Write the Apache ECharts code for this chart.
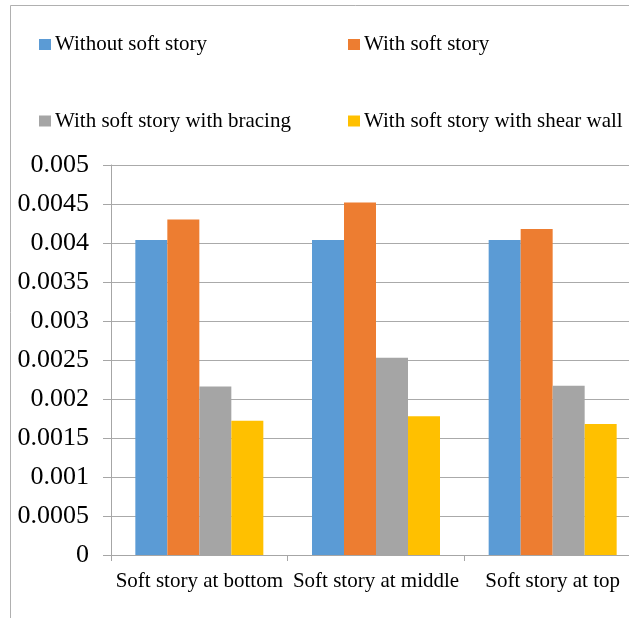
<!DOCTYPE html>
<html>
<head>
<meta charset="utf-8">
<script src="https://cdn.jsdelivr.net/npm/echarts@6/dist/echarts.min.js"></script>
<style>html,body{margin:0;padding:0;background:#fff;overflow:hidden;width:629px;height:618px;}#c{width:700px;height:618px;}</style>
</head>
<body>
<div id="c"></div>
<script>
const categories = ['Soft story at bottom', 'Soft story at middle', 'Soft story at top'];
const seriesNames = ['Without soft story', 'With soft story', 'With soft story with bracing', 'With soft story with shear wall'];
const withoutSoft = [0.00404, 0.00404, 0.00404];
const withSoft = [0.00430, 0.00452, 0.00418];
const withBracing = [0.00216, 0.00253, 0.00217];
const withShearWall = [0.00172, 0.00178, 0.00168];
const yTicks = { min: 0, max: 0.005, interval: 0.0005 };

const colors = ['#5b9bd5', '#ed7d31', '#a5a5a5', '#ffc000'];
const values = [withoutSoft, withSoft, withBracing, withShearWall];
const font = 'Liberation Serif, Times New Roman, serif';
const legendPos = [[39, 34], [348, 34], [39, 110.5], [348, 110.5]];

const chart = echarts.init(document.getElementById('c'));
chart.setOption({
  animation: false,
  color: colors,
  graphic: [{
    type: 'rect', silent: true, z: -1,
    shape: { x: 10.5, y: 5.5, width: 800, height: 800 },
    style: { fill: 'none', stroke: '#b0b0b0', lineWidth: 1 }
  }],
  legend: seriesNames.map((n, i) => ({
    data: [n], left: legendPos[i][0], top: legendPos[i][1],
    icon: 'rect', itemWidth: 12, itemHeight: 11, itemGap: 4, padding: 0,
    textStyle: { fontFamily: font, fontSize: 21, color: '#000', padding: [0, 0, 0, -1] }
  })),
  grid: { left: 111, top: 165, width: 530, height: 390, containLabel: false },
  xAxis: {
    type: 'category', data: categories,
    axisLine: { lineStyle: { color: '#a6a6a6' } },
    axisTick: { show: true, alignWithLabel: false, length: 6, lineStyle: { color: '#a6a6a6' } },
    axisLabel: { fontFamily: font, fontSize: 21, color: '#000', margin: 16, interval: 0 }
  },
  yAxis: {
    type: 'value', min: yTicks.min, max: yTicks.max, interval: yTicks.interval,
    axisLine: { show: true, lineStyle: { color: '#a6a6a6' } },
    axisTick: { show: true, length: 8, lineStyle: { color: '#a6a6a6' } },
    splitLine: { lineStyle: { color: '#aaaaaa' } },
    axisLabel: { fontFamily: font, fontSize: 26, color: '#000', margin: 22,
      formatter: v => String(parseFloat(v.toFixed(6))) }
  },
  series: seriesNames.map((n, i) => ({
    name: n, type: 'bar', data: values[i], barWidth: 32, barGap: '0%',
    itemStyle: { color: colors[i] }
  }))
});
</script>
</body>
</html>
